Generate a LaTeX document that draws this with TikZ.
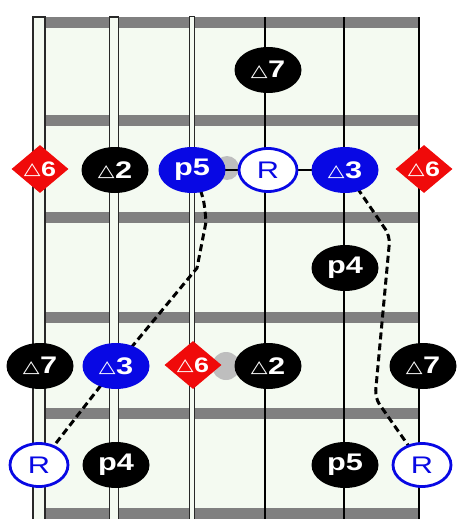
\documentclass[tikz,border=0pt]{standalone}
\usepackage{fontspec}
\usepackage{graphicx}
\setmainfont{Liberation Sans}
\newfontfamily\symf{DejaVu Sans}
\usetikzlibrary{shapes.geometric}
\pgfdeclarelayer{board}
\pgfdeclarelayer{conn}
\pgfsetlayers{board,conn,main}
\definecolor{nblue}{RGB}{8,8,228}
\definecolor{nred}{RGB}{240,10,10}
\definecolor{fretgray}{RGB}{128,128,128}
\definecolor{boardbg}{RGB}{244,250,241}
\definecolor{strdark}{RGB}{40,40,40}
\definecolor{blobgray}{RGB}{190,190,190}
\newcommand{\tri}{\raisebox{1.5pt}{\symf\bfseries\fontsize{17}{17}\selectfont △}\hspace{0.3pt}}
\newcommand{\lbl}[1]{\makebox[0pt]{\scalebox{1.28}[1]{#1}}}
\tikzset{
  blk/.style={ellipse, fill=black, minimum width=67pt, minimum height=46pt, inner sep=0pt,
    text=white, font=\bfseries\fontsize{24}{24}\selectfont},
  blu/.style={blk, fill=nblue},
  opn/.style={ellipse, draw=nblue, line width=2.8pt, fill=white, minimum width=58pt,
    minimum height=43pt, inner sep=0pt, text=nblue, font=\fontsize{24}{24}\selectfont},
  dia/.style={diamond, fill=nred, minimum width=57pt, minimum height=48pt, inner sep=0pt,
    text=white, font=\bfseries\fontsize{21}{21}\selectfont},
  dsh/.style={line width=3pt, dash pattern=on 7pt off 4pt},
  fret/.style={fill=fretgray},
  wound/.style={draw=strdark, line width=1.3pt, fill=boardbg},
  plain/.style={draw=black, line width=1.7pt},
}
\begin{document}
\begin{tikzpicture}[x=1pt,y=-1pt]
\useasboundingbox (0,0) rectangle (461,519);
% notes
\node[blk] (t7) at (268,70) {\lbl{\tri7}};
\node[dia] (r2d6a) at (40,169) {\lbl{\tri6}};
\node[blk] (r2d2) at (115,170) {\lbl{\tri2}};
\node[blu] (r2p5) at (192,170) {\lbl{p5}};
\node[opn] (r2R) at (268,170) {\lbl{R}};
\node[blu] (r2d3) at (345,170) {\lbl{\tri3}};
\node[dia] (r2d6b) at (424,169) {\lbl{\tri6}};
\node[blk] (r3p4) at (345,268) {\lbl{p4}};
\node[blk] (r4d7a) at (40,366) {\lbl{\tri7}};
\node[blu] (r4d3) at (116,366) {\lbl{\tri3}};
\node[dia] (r4d6) at (193,365) {\lbl{\tri6}};
\node[blk] (r4d2) at (268,366) {\lbl{\tri2}};
\node[blk] (r4d7b) at (423,366) {\lbl{\tri7}};
\node[opn] (r5Ra) at (39,465) {\lbl{R}};
\node[blk] (r5p4) at (116,465) {\lbl{p4}};
\node[blk] (r5p5) at (345,465) {\lbl{p5}};
\node[opn] (r5Rb) at (422,465) {\lbl{R}};
% fretboard
\begin{pgfonlayer}{board}
  \fill[boardbg] (45,17) rectangle (419,519);
  \foreach \y in {17,115,212,312,408,508}
    \fill[fret] (45,\y) rectangle (419,\y+11);
  \draw[wound] (33,17) rectangle (45,530);
  \draw[wound, line width=1.2pt] (109.5,17) rectangle (118.5,530);
  \draw[wound, line width=1pt] (189.5,17) rectangle (194,530);
  \foreach \x in {265,344,419}
    \draw[plain] (\x,17) -- (\x,530);
\end{pgfonlayer}
% connectors
\begin{pgfonlayer}{conn}
  \fill[blobgray] (227,168) circle (12);
  \fill[blobgray] (226,366) circle (14);
  \draw[line width=2.2pt] (r2p5.center) -- (r2R.center) -- (r2d3.center);
  \coordinate (la) at (206,222);
  \coordinate (lb) at (197,268);
  \coordinate (ra) at (390,236);
  \coordinate (rb) at (375,398);
  \draw[dsh] (r2p5.center) .. controls (204,198) .. (la) -- (lb) -- (r4d3.center) -- (r5Ra.center);
  \draw[dsh, rounded corners=8pt] (r2d3.center) -- (ra) -- (rb) -- (r5Rb.center);
\end{pgfonlayer}
\end{tikzpicture}
\end{document}
